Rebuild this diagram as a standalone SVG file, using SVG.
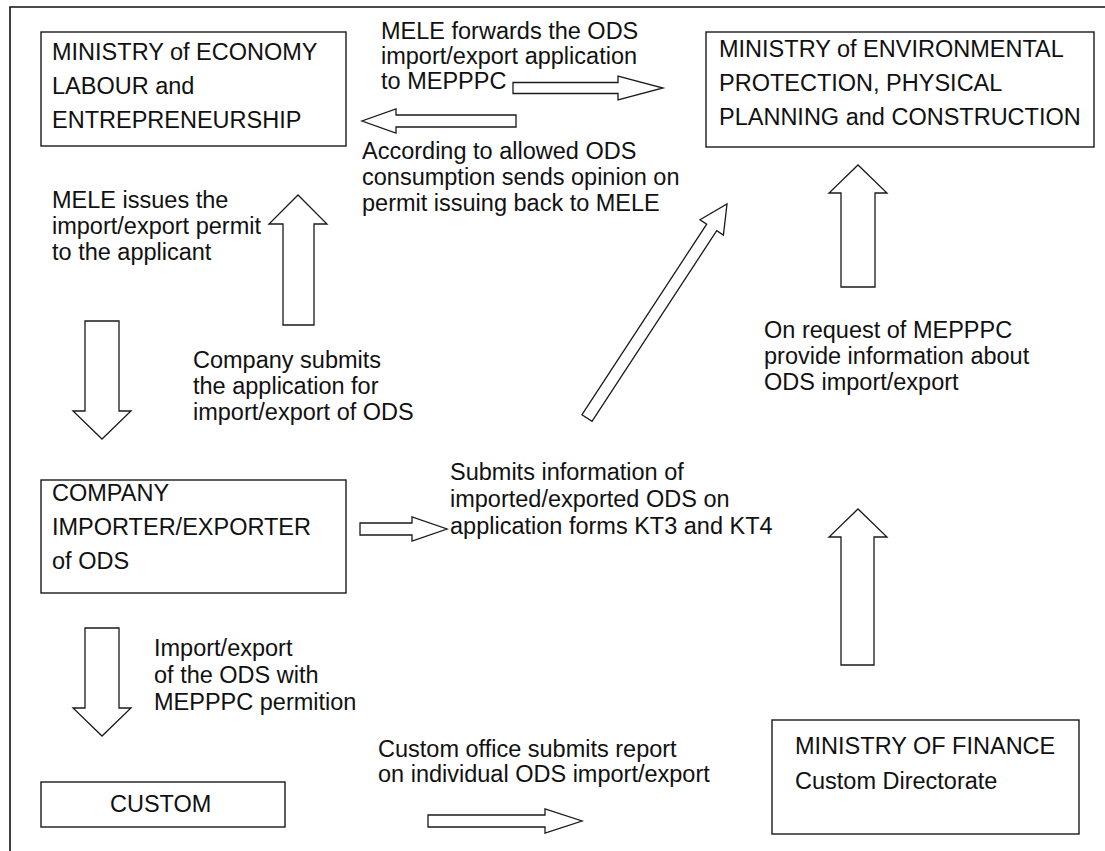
<svg xmlns="http://www.w3.org/2000/svg" width="1105" height="851" viewBox="0 0 1105 851">
<style>
.box{fill:#fff;stroke:#1a1a1a;stroke-width:1.4}
.arr{fill:#fff;stroke:#1a1a1a;stroke-width:1.3;stroke-linejoin:miter}
text{font-family:"Liberation Sans",Arial,Helvetica,sans-serif;font-size:23.5px;fill:#111}
.frame{fill:none;stroke:#111;stroke-width:1.6}
</style>
<rect width="1105" height="851" fill="#fff"/>
<path class="frame" d="M10,851 V7 H1105"/>

<g id="mele">
<rect class="box" x="41" y="32" width="305" height="114"/>
<text x="52" y="60">MINISTRY of ECONOMY</text>
<text x="52" y="94">LABOUR and</text>
<text x="52" y="128">ENTREPRENEURSHIP</text>
</g>

<g id="mepppc">
<rect class="box" x="706" y="32" width="388" height="115"/>
<text x="719" y="57">MINISTRY of ENVIRONMENTAL</text>
<text x="719" y="91">PROTECTION, PHYSICAL</text>
<text x="719" y="125">PLANNING and CONSTRUCTION</text>
</g>

<g id="company">
<rect class="box" x="41" y="480" width="305" height="113"/>
<text x="52" y="501">COMPANY</text>
<text x="52" y="535">IMPORTER/EXPORTER</text>
<text x="52" y="569">of ODS</text>
</g>

<g id="custom">
<rect class="box" x="41" y="782" width="244" height="45"/>
<text x="110" y="812">CUSTOM</text>
</g>

<g id="finance">
<rect class="box" x="772" y="720" width="307" height="114"/>
<text x="795" y="754">MINISTRY OF FINANCE</text>
<text x="795" y="789">Custom Directorate</text>
</g>

<g id="connectors">
<polygon class="arr" points="513,82.5 618,82.5 618,76 663,88 618,100 618,93.5 513,93.5"/>
<polygon class="arr" points="516,115 396,115 396,109 362,121 396,133 396,127 516,127"/>
<polygon class="arr" points="283,325 283,224 269,224 298,195 327,224 314,224 314,325"/>
<polygon class="arr" points="85,321 119,321 119,411 131,411 102,439 73,411 85,411"/>
<polygon class="arr" points="85,628 119,628 119,708 131,708 102,736 73,708 85,708"/>
<polygon class="arr" points="841,287 841,193 829,193 858,165 887,193 875,193 875,287"/>
<polygon class="arr" points="841,665 841,537 829,537 858,509 887,537 874,537 874,665"/>
<polygon class="arr" points="582,414.7 706.7,224.1 700,219.7 727,204 723.4,235.1 716.7,230.7 592,421.3"/>
<polygon class="arr" points="360,523 412,523 412,517 447,529 412,541 412,535 360,535"/>
<polygon class="arr" points="428,815 545,815 545,809 582,821 545,833 545,827 428,827"/>
</g>

<g id="labels">
<text x="381" y="39">MELE forwards the ODS</text>
<text x="381" y="64">import/export application</text>
<text x="381" y="89">to MEPPPC</text>
<text x="362" y="159">According to allowed ODS</text>
<text x="362" y="185">consumption sends opinion on</text>
<text x="362" y="211">permit issuing back to MELE</text>
<text x="52" y="208">MELE issues the</text>
<text x="52" y="234">import/export permit</text>
<text x="52" y="260">to the applicant</text>
<text x="193" y="368">Company submits</text>
<text x="193" y="394">the application for</text>
<text x="193" y="420">import/export of ODS</text>
<text x="764" y="338">On request of MEPPPC</text>
<text x="764" y="364">provide information about</text>
<text x="764" y="390">ODS import/export</text>
<text x="450" y="480">Submits information of</text>
<text x="450" y="507">imported/exported ODS on</text>
<text x="450" y="534">application forms KT3 and KT4</text>
<text x="154" y="656">Import/export</text>
<text x="154" y="683">of the ODS with</text>
<text x="154" y="710">MEPPPC permition</text>
<text x="378" y="757">Custom office submits report</text>
<text x="378" y="782">on individual ODS import/export</text>
</g>
</svg>
